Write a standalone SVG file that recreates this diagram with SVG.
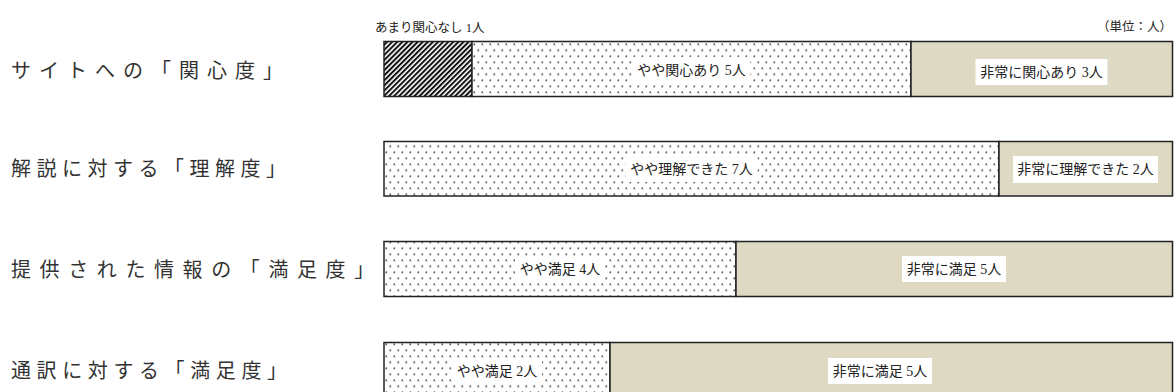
<svg xmlns="http://www.w3.org/2000/svg" width="1175" height="392" viewBox="0 0 1175 392">
  <defs>
    <pattern id="dots" patternUnits="userSpaceOnUse" x="384" y="41.5" width="8" height="12">
      <rect width="8" height="12" fill="#ffffff"/>
      <rect x="1.5" y="2" width="1.6" height="1.6" fill="#3a3a3a"/>
      <rect x="5.5" y="8" width="1.6" height="1.6" fill="#3a3a3a"/>
    </pattern>
    <pattern id="hatch" patternUnits="userSpaceOnUse" width="3.6" height="10" patternTransform="rotate(45)">
      <rect width="3.6" height="10" fill="#ffffff"/>
      <rect width="2" height="10" fill="#111111"/>
    </pattern>
    <style>
      .row { font-family: "Noto Sans CJK JP", sans-serif; font-size: 20px; fill: #333; }
      .lbl { font-family: "Liberation Serif", "Noto Sans CJK JP", serif; font-size: 14px; fill: #222; text-anchor: middle; }
      .top { font-family: "Liberation Serif", "Noto Sans CJK JP", serif; font-size: 12.5px; fill: #222; }
      .seg { stroke: #222; stroke-width: 1.5; }
      .dot { fill: url(#dots); }
      .tan { fill: #ddd9c3; }
      .hat { fill: url(#hatch); }
      .box { fill: #ffffff; }
    </style>
  </defs>

  <g id="header">
    <text class="top" x="375" y="32">あまり関心なし 1人</text>
    <text class="top" x="1172" y="31" text-anchor="end" font-size="14">（単位：人）</text>
  </g>

  <g id="row1">
    <text class="row" x="11" y="78" letter-spacing="8">サイトへの「関心度」</text>
    <rect class="seg hat" x="384" y="41.5" width="88" height="55"/>
    <rect class="seg dot" x="472" y="41.5" width="439" height="55"/>
    <rect class="seg tan" x="911" y="41.5" width="261.5" height="55"/>
    <rect class="box" x="632.5" y="57" width="118" height="26"/>
    <text class="lbl" x="691.5" y="75">やや関心あり 5人</text>
    <rect class="box" x="975.5" y="59" width="132" height="26"/>
    <text class="lbl" x="1041.5" y="77">非常に関心あり 3人</text>
  </g>

  <g id="row2">
    <text class="row" x="11" y="176" letter-spacing="5.5">解説に対する「理解度」</text>
    <rect class="seg dot" x="384" y="141.5" width="615" height="54.5"/>
    <rect class="seg tan" x="999" y="141.5" width="173.5" height="54.5"/>
    <rect class="box" x="625.5" y="156" width="132" height="26"/>
    <text class="lbl" x="691.5" y="174">やや理解できた 7人</text>
    <rect class="box" x="1013" y="156" width="145" height="27"/>
    <text class="lbl" x="1085.5" y="174">非常に理解できた 2人</text>
  </g>

  <g id="row3">
    <text class="row" x="11" y="277" letter-spacing="8.6">提供された情報の「満足度」</text>
    <rect class="seg dot" x="384" y="241.5" width="352" height="55"/>
    <rect class="seg tan" x="736" y="241.5" width="436.5" height="55"/>
    <rect class="box" x="515" y="256" width="90" height="26"/>
    <text class="lbl" x="560" y="274">やや満足 4人</text>
    <rect class="box" x="902" y="256" width="104" height="26"/>
    <text class="lbl" x="954" y="274">非常に満足 5人</text>
  </g>

  <g id="row4">
    <text class="row" x="11" y="378" letter-spacing="5.6">通訳に対する「満足度」</text>
    <rect class="seg dot" x="384" y="342.5" width="226" height="60"/>
    <rect class="seg tan" x="610" y="342.5" width="562.5" height="60"/>
    <rect class="box" x="452" y="358" width="90" height="26"/>
    <text class="lbl" x="497" y="376">やや満足 2人</text>
    <rect class="box" x="828" y="358" width="104" height="26"/>
    <text class="lbl" x="880" y="376">非常に満足 5人</text>
  </g>

  <g id="connectors"/>
</svg>
